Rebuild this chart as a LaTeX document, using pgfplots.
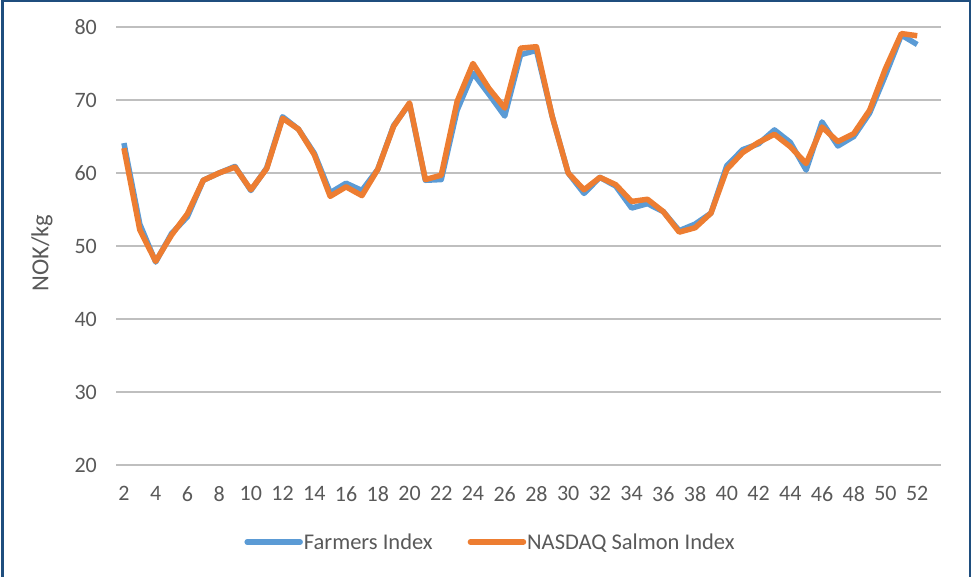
\documentclass[border=0pt]{standalone}
\usepackage{pgfplots}
\pgfplotsset{compat=1.18}
\usepackage{fontspec}
\setmainfont{Carlito}
\definecolor{farm}{HTML}{5B9BD5}
\definecolor{nasdaq}{HTML}{ED7D31}
\definecolor{txt}{HTML}{595959}
\definecolor{grid}{HTML}{D9D9D9}
\definecolor{frame}{HTML}{1F4E7E}
\pgfplotstableread{
w farm nasdaq
2 64.1 63.4
3 53.0 52.2
4 47.8 47.9
5 51.7 51.5
6 54.0 54.4
7 59.0 59.0
8 60.0 60.0
9 60.9 60.8
10 57.6 57.7
11 60.7 60.6
12 67.7 67.5
13 66.0 66.0
14 62.7 62.5
15 57.3 56.8
16 58.6 58.1
17 57.6 56.9
18 60.5 60.5
19 66.5 66.4
20 69.5 69.6
21 59.0 59.1
22 59.1 59.7
23 68.6 69.8
24 73.7 75.0
25 70.8 71.6
26 67.8 68.9
27 76.2 77.1
28 76.8 77.3
29 67.7 67.7
30 60.0 60.0
31 57.2 57.7
32 59.4 59.4
33 58.2 58.4
34 55.2 56.1
35 55.8 56.4
36 54.7 54.7
37 52.1 51.9
38 53.0 52.5
39 54.5 54.5
40 61.0 60.5
41 63.2 62.8
42 64.0 64.2
43 65.9 65.3
44 64.2 63.6
45 60.4 61.3
46 67.0 66.3
47 63.7 64.3
48 65.0 65.4
49 68.2 68.6
50 73.4 74.3
51 78.9 79.1
52 77.6 78.8
}\datatable
\begin{document}
\begin{tikzpicture}[x=1bp,y=1bp]
\useasboundingbox (0,0) rectangle (974,577);
\draw[frame, line width=2.2bp] (2.5,0) -- (2.5,575.8) -- (970.2,575.8) -- (970.2,0);
\begin{axis}[
  at={(116bp,112bp)}, anchor=south west,
  scale only axis, width=825bp, height=438bp,
  xmin=1.5, xmax=53.5, ymin=20, ymax=80,
  xtick={2,4,...,52}, ytick={20,30,...,80},
  major tick length=0pt,
  axis line style={draw=none},
  ymajorgrids, xmajorgrids=false,
  grid style={grid, line width=1.3bp},
  /pgf/number format/assume math mode=true,
  tick label style={font=\fontsize{22bp}{26bp}\selectfont, text=txt, inner sep=0pt},
  yticklabel style={xshift=-19bp},
  xticklabel style={yshift=-21bp},
  ylabel={NOK/kg},
  ylabel style={font=\fontsize{24.5bp}{28bp}\selectfont, text=txt, at={(axis description cs:-0.0897,0.484)}, anchor=center, inner sep=0pt},
  legend columns=2,
  legend style={at={(axis description cs:0.4533,-0.1758)}, anchor=center, draw=none, fill=none,
    font=\fontsize{22.5bp}{26bp}\selectfont, text=txt,
    /tikz/every even column/.append style={column sep=34bp},
    nodes={inner sep=1bp}},
  legend image code/.code={\draw[#1, line cap=round] (0bp,0bp) -- (53bp,0bp);},
  clip=false,
]
\addplot[farm, line width=5.5bp, line join=round] table[x=w, y=farm] {\datatable};
\addlegendentry{Farmers Index}
\addplot[nasdaq, line width=5.5bp, line join=round] table[x=w, y=nasdaq] {\datatable};
\addlegendentry{NASDAQ Salmon Index}
\end{axis}
\end{tikzpicture}
\end{document}
